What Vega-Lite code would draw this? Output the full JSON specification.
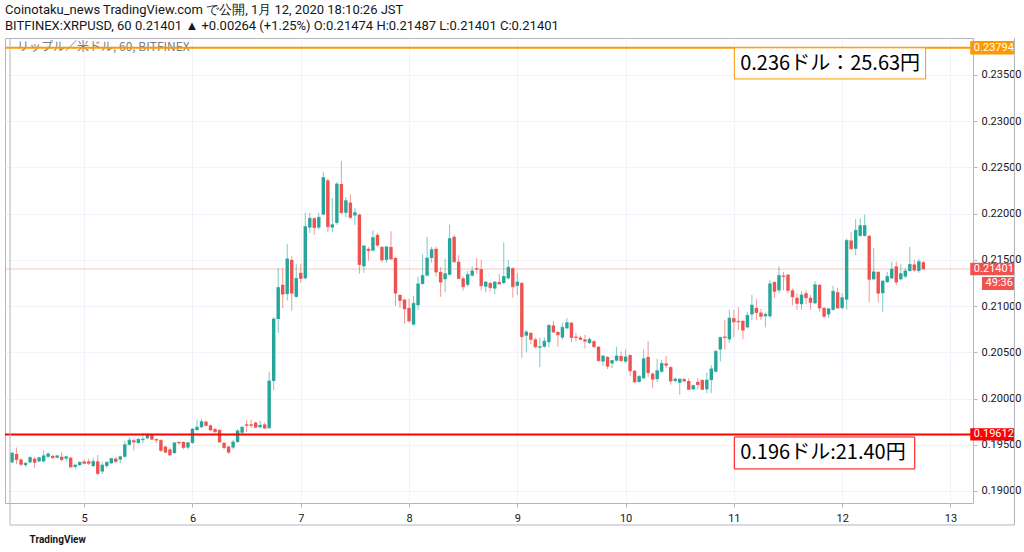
{
  "$schema": "https://vega.github.io/schema/vega-lite/v6.json",
  "width": 968,
  "height": 465,
  "autosize": "none",
  "padding": {"left": 5, "top": 38, "right": 51, "bottom": 49},
  "background": "#ffffff",
  "title": {
    "text": "Coinotaku_news TradingView.com で公開, 1月 12, 2020 18:10:26 JST",
    "subtitle": "BITFINEX:XRPUSD, 60 0.21401 ▲ +0.00264 (+1.25%) O:0.21474 H:0.21487 L:0.21401 C:0.21401",
    "anchor": "start",
    "frame": "group",
    "offset": 5,
    "font": "Roboto",
    "fontSize": 13,
    "fontWeight": "normal",
    "color": "#131722",
    "subtitleFont": "Roboto",
    "subtitleFontSize": 13,
    "subtitleColor": "#131722",
    "subtitlePadding": 3
  },
  "config": {
    "font": "Roboto",
    "view": {"stroke": "#b2b5be", "strokeWidth": 1},
    "axis": {
      "gridColor": "#f0f3fa",
      "domainColor": "#b2b5be",
      "tickColor": "#b2b5be",
      "labelColor": "#131722",
      "labelFont": "Roboto",
      "labelFontSize": 11
    }
  },
  "datasets": {
    "candles": [
      {"k":8,"o":0.1931,"h":0.1942,"l":0.1930,"c":0.1941},
      {"k":9,"o":0.1940,"h":0.1947,"l":0.1929,"c":0.1934},
      {"k":10,"o":0.1934,"h":0.1935,"l":0.1927,"c":0.1929},
      {"k":11,"o":0.1928,"h":0.1931,"l":0.1926,"c":0.1930},
      {"k":12,"o":0.1931,"h":0.1938,"l":0.1930,"c":0.1936},
      {"k":13,"o":0.1935,"h":0.1937,"l":0.1925,"c":0.1931},
      {"k":14,"o":0.1932,"h":0.1937,"l":0.1931,"c":0.1936},
      {"k":15,"o":0.1932,"h":0.1944,"l":0.1931,"c":0.1938},
      {"k":16,"o":0.1937,"h":0.1942,"l":0.1936,"c":0.1940},
      {"k":17,"o":0.1938,"h":0.1939,"l":0.1935,"c":0.1936},
      {"k":18,"o":0.1936,"h":0.1939,"l":0.1935,"c":0.1938},
      {"k":19,"o":0.1937,"h":0.1942,"l":0.1932,"c":0.1934},
      {"k":20,"o":0.1935,"h":0.1938,"l":0.1932,"c":0.1937},
      {"k":21,"o":0.1936,"h":0.1937,"l":0.1925,"c":0.1926},
      {"k":22,"o":0.1926,"h":0.1929,"l":0.1924,"c":0.1928},
      {"k":23,"o":0.1928,"h":0.1932,"l":0.1927,"c":0.1931},
      {"k":24,"o":0.1932,"h":0.1934,"l":0.1929,"c":0.1930},
      {"k":25,"o":0.1932,"h":0.1935,"l":0.1928,"c":0.1930},
      {"k":26,"o":0.1927,"h":0.1936,"l":0.1926,"c":0.1932},
      {"k":27,"o":0.1932,"h":0.1939,"l":0.1917,"c":0.1919},
      {"k":28,"o":0.1921,"h":0.1932,"l":0.1918,"c":0.1928},
      {"k":29,"o":0.1927,"h":0.1932,"l":0.1925,"c":0.1931},
      {"k":30,"o":0.1930,"h":0.1936,"l":0.1929,"c":0.1935},
      {"k":31,"o":0.1935,"h":0.1937,"l":0.1930,"c":0.1932},
      {"k":32,"o":0.1934,"h":0.1938,"l":0.1930,"c":0.1937},
      {"k":33,"o":0.1937,"h":0.1954,"l":0.1936,"c":0.1950},
      {"k":34,"o":0.1950,"h":0.1958,"l":0.1949,"c":0.1955},
      {"k":35,"o":0.1955,"h":0.1956,"l":0.1944,"c":0.1953},
      {"k":36,"o":0.1952,"h":0.1957,"l":0.1951,"c":0.1956},
      {"k":37,"o":0.1955,"h":0.1963,"l":0.1952,"c":0.1956},
      {"k":38,"o":0.1957,"h":0.1963,"l":0.1956,"c":0.1961},
      {"k":39,"o":0.1961,"h":0.1962,"l":0.1955,"c":0.1956},
      {"k":40,"o":0.1956,"h":0.1957,"l":0.1952,"c":0.1955},
      {"k":41,"o":0.1955,"h":0.1956,"l":0.1942,"c":0.1944},
      {"k":42,"o":0.1948,"h":0.1949,"l":0.1941,"c":0.1942},
      {"k":43,"o":0.1945,"h":0.1947,"l":0.1938,"c":0.1939},
      {"k":44,"o":0.1941,"h":0.1953,"l":0.1940,"c":0.1952},
      {"k":45,"o":0.1953,"h":0.1954,"l":0.1950,"c":0.1952},
      {"k":46,"o":0.1953,"h":0.1954,"l":0.1945,"c":0.1947},
      {"k":47,"o":0.1947,"h":0.1953,"l":0.1945,"c":0.1952},
      {"k":48,"o":0.1952,"h":0.1968,"l":0.1951,"c":0.1967},
      {"k":49,"o":0.1966,"h":0.1977,"l":0.1965,"c":0.1969},
      {"k":50,"o":0.1969,"h":0.1978,"l":0.1968,"c":0.1975},
      {"k":51,"o":0.1975,"h":0.1976,"l":0.1970,"c":0.1971},
      {"k":52,"o":0.1971,"h":0.1972,"l":0.1965,"c":0.1966},
      {"k":53,"o":0.1967,"h":0.1968,"l":0.1963,"c":0.1964},
      {"k":54,"o":0.1966,"h":0.1967,"l":0.1952,"c":0.1953},
      {"k":55,"o":0.1952,"h":0.1953,"l":0.1945,"c":0.1947},
      {"k":56,"o":0.1948,"h":0.1949,"l":0.1940,"c":0.1942},
      {"k":57,"o":0.1947,"h":0.1955,"l":0.1945,"c":0.1953},
      {"k":58,"o":0.1953,"h":0.1967,"l":0.1952,"c":0.1965},
      {"k":59,"o":0.1963,"h":0.1970,"l":0.1962,"c":0.1969},
      {"k":60,"o":0.1972,"h":0.1977,"l":0.1964,"c":0.1971},
      {"k":61,"o":0.1972,"h":0.1977,"l":0.1968,"c":0.1971},
      {"k":62,"o":0.1974,"h":0.1975,"l":0.1968,"c":0.1969},
      {"k":63,"o":0.1969,"h":0.1976,"l":0.1968,"c":0.1971},
      {"k":64,"o":0.1972,"h":0.1974,"l":0.1967,"c":0.1968},
      {"k":65,"o":0.1968,"h":0.2029,"l":0.1967,"c":0.2019},
      {"k":66,"o":0.2019,"h":0.2088,"l":0.2009,"c":0.2086},
      {"k":67,"o":0.2086,"h":0.2141,"l":0.2071,"c":0.2120},
      {"k":68,"o":0.2123,"h":0.2141,"l":0.2098,"c":0.2113},
      {"k":69,"o":0.2113,"h":0.2167,"l":0.2106,"c":0.2151},
      {"k":70,"o":0.2150,"h":0.2154,"l":0.2095,"c":0.2114},
      {"k":71,"o":0.2110,"h":0.2145,"l":0.2109,"c":0.2130},
      {"k":72,"o":0.2136,"h":0.2146,"l":0.2125,"c":0.2130},
      {"k":73,"o":0.2130,"h":0.2201,"l":0.2129,"c":0.2186},
      {"k":74,"o":0.2185,"h":0.2201,"l":0.2179,"c":0.2195},
      {"k":75,"o":0.2195,"h":0.2196,"l":0.2177,"c":0.2185},
      {"k":76,"o":0.2185,"h":0.2201,"l":0.2183,"c":0.2196},
      {"k":77,"o":0.2199,"h":0.2245,"l":0.2198,"c":0.2239},
      {"k":78,"o":0.2236,"h":0.2238,"l":0.2180,"c":0.2186},
      {"k":79,"o":0.2185,"h":0.2217,"l":0.2180,"c":0.2188},
      {"k":80,"o":0.2190,"h":0.2234,"l":0.2188,"c":0.2232},
      {"k":81,"o":0.2232,"h":0.2257,"l":0.2200,"c":0.2201},
      {"k":82,"o":0.2201,"h":0.2218,"l":0.2196,"c":0.2214},
      {"k":83,"o":0.2212,"h":0.2221,"l":0.2194,"c":0.2196},
      {"k":84,"o":0.2198,"h":0.2206,"l":0.2188,"c":0.2201},
      {"k":85,"o":0.2199,"h":0.2200,"l":0.2135,"c":0.2145},
      {"k":86,"o":0.2143,"h":0.2166,"l":0.2136,"c":0.2165},
      {"k":87,"o":0.2162,"h":0.2164,"l":0.2149,"c":0.2160},
      {"k":88,"o":0.2160,"h":0.2182,"l":0.2159,"c":0.2174},
      {"k":89,"o":0.2177,"h":0.2179,"l":0.2164,"c":0.2166},
      {"k":90,"o":0.2164,"h":0.2165,"l":0.2147,"c":0.2150},
      {"k":91,"o":0.2150,"h":0.2165,"l":0.2147,"c":0.2164},
      {"k":92,"o":0.2164,"h":0.2181,"l":0.2150,"c":0.2151},
      {"k":93,"o":0.2152,"h":0.2153,"l":0.2100,"c":0.2114},
      {"k":94,"o":0.2112,"h":0.2113,"l":0.2098,"c":0.2106},
      {"k":95,"o":0.2107,"h":0.2108,"l":0.2081,"c":0.2097},
      {"k":96,"o":0.2098,"h":0.2108,"l":0.2082,"c":0.2084},
      {"k":97,"o":0.2080,"h":0.2111,"l":0.2079,"c":0.2103},
      {"k":98,"o":0.2101,"h":0.2132,"l":0.2096,"c":0.2124},
      {"k":99,"o":0.2124,"h":0.2156,"l":0.2123,"c":0.2133},
      {"k":100,"o":0.2133,"h":0.2175,"l":0.2132,"c":0.2152},
      {"k":101,"o":0.2152,"h":0.2164,"l":0.2147,"c":0.2161},
      {"k":102,"o":0.2162,"h":0.2164,"l":0.2132,"c":0.2137},
      {"k":103,"o":0.2137,"h":0.2142,"l":0.2110,"c":0.2126},
      {"k":104,"o":0.2129,"h":0.2151,"l":0.2115,"c":0.2135},
      {"k":105,"o":0.2134,"h":0.2188,"l":0.2133,"c":0.2173},
      {"k":106,"o":0.2175,"h":0.2177,"l":0.2147,"c":0.2148},
      {"k":107,"o":0.2148,"h":0.2155,"l":0.2129,"c":0.2130},
      {"k":108,"o":0.2130,"h":0.2132,"l":0.2117,"c":0.2121},
      {"k":109,"o":0.2123,"h":0.2138,"l":0.2121,"c":0.2134},
      {"k":110,"o":0.2133,"h":0.2143,"l":0.2132,"c":0.2138},
      {"k":111,"o":0.2141,"h":0.2152,"l":0.2135,"c":0.2140},
      {"k":112,"o":0.2140,"h":0.2150,"l":0.2117,"c":0.2122},
      {"k":113,"o":0.2121,"h":0.2127,"l":0.2115,"c":0.2126},
      {"k":114,"o":0.2125,"h":0.2126,"l":0.2116,"c":0.2120},
      {"k":115,"o":0.2119,"h":0.2127,"l":0.2113,"c":0.2126},
      {"k":116,"o":0.2126,"h":0.2135,"l":0.2123,"c":0.2124},
      {"k":117,"o":0.2125,"h":0.2169,"l":0.2124,"c":0.2132},
      {"k":118,"o":0.2130,"h":0.2150,"l":0.2129,"c":0.2142},
      {"k":119,"o":0.2141,"h":0.2142,"l":0.2109,"c":0.2121},
      {"k":120,"o":0.2122,"h":0.2136,"l":0.2112,"c":0.2126},
      {"k":121,"o":0.2125,"h":0.2126,"l":0.2044,"c":0.2067},
      {"k":122,"o":0.2068,"h":0.2074,"l":0.2050,"c":0.2072},
      {"k":123,"o":0.2071,"h":0.2072,"l":0.2059,"c":0.2064},
      {"k":124,"o":0.2064,"h":0.2066,"l":0.2054,"c":0.2056},
      {"k":125,"o":0.2055,"h":0.2066,"l":0.2034,"c":0.2056},
      {"k":126,"o":0.2056,"h":0.2066,"l":0.2055,"c":0.2062},
      {"k":127,"o":0.2061,"h":0.2081,"l":0.2055,"c":0.2079},
      {"k":128,"o":0.2079,"h":0.2084,"l":0.2071,"c":0.2072},
      {"k":129,"o":0.2072,"h":0.2073,"l":0.2056,"c":0.2069},
      {"k":130,"o":0.2066,"h":0.2082,"l":0.2064,"c":0.2077},
      {"k":131,"o":0.2076,"h":0.2087,"l":0.2075,"c":0.2082},
      {"k":132,"o":0.2082,"h":0.2083,"l":0.2061,"c":0.2066},
      {"k":133,"o":0.2067,"h":0.2071,"l":0.2062,"c":0.2066},
      {"k":134,"o":0.2066,"h":0.2068,"l":0.2063,"c":0.2064},
      {"k":135,"o":0.2064,"h":0.2069,"l":0.2054,"c":0.2062},
      {"k":136,"o":0.2060,"h":0.2066,"l":0.2059,"c":0.2064},
      {"k":137,"o":0.2062,"h":0.2063,"l":0.2055,"c":0.2056},
      {"k":138,"o":0.2056,"h":0.2057,"l":0.2040,"c":0.2041},
      {"k":139,"o":0.2040,"h":0.2047,"l":0.2035,"c":0.2046},
      {"k":140,"o":0.2045,"h":0.2046,"l":0.2032,"c":0.2035},
      {"k":141,"o":0.2038,"h":0.2042,"l":0.2033,"c":0.2041},
      {"k":142,"o":0.2041,"h":0.2056,"l":0.2040,"c":0.2046},
      {"k":143,"o":0.2046,"h":0.2051,"l":0.2040,"c":0.2041},
      {"k":144,"o":0.2040,"h":0.2053,"l":0.2038,"c":0.2045},
      {"k":145,"o":0.2047,"h":0.2048,"l":0.2024,"c":0.2030},
      {"k":146,"o":0.2030,"h":0.2031,"l":0.2017,"c":0.2018},
      {"k":147,"o":0.2018,"h":0.2025,"l":0.2017,"c":0.2024},
      {"k":148,"o":0.2022,"h":0.2053,"l":0.2021,"c":0.2043},
      {"k":149,"o":0.2045,"h":0.2062,"l":0.2023,"c":0.2028},
      {"k":150,"o":0.2027,"h":0.2028,"l":0.2011,"c":0.2021},
      {"k":151,"o":0.2021,"h":0.2043,"l":0.2018,"c":0.2030},
      {"k":152,"o":0.2029,"h":0.2042,"l":0.2028,"c":0.2038},
      {"k":153,"o":0.2038,"h":0.2046,"l":0.2033,"c":0.2036},
      {"k":154,"o":0.2034,"h":0.2035,"l":0.2015,"c":0.2019},
      {"k":155,"o":0.2019,"h":0.2023,"l":0.2017,"c":0.2021},
      {"k":156,"o":0.2017,"h":0.2022,"l":0.2004,"c":0.2021},
      {"k":157,"o":0.2021,"h":0.2022,"l":0.2018,"c":0.2019},
      {"k":158,"o":0.2019,"h":0.2022,"l":0.2009,"c":0.2010},
      {"k":159,"o":0.2010,"h":0.2015,"l":0.2009,"c":0.2014},
      {"k":160,"o":0.2018,"h":0.2022,"l":0.2010,"c":0.2015},
      {"k":161,"o":0.2020,"h":0.2021,"l":0.2009,"c":0.2010},
      {"k":162,"o":0.2010,"h":0.2028,"l":0.2006,"c":0.2020},
      {"k":163,"o":0.2020,"h":0.2036,"l":0.2006,"c":0.2032},
      {"k":164,"o":0.2029,"h":0.2053,"l":0.2028,"c":0.2051},
      {"k":165,"o":0.2053,"h":0.2067,"l":0.2040,"c":0.2066},
      {"k":166,"o":0.2067,"h":0.2085,"l":0.2053,"c":0.2066},
      {"k":167,"o":0.2064,"h":0.2096,"l":0.2060,"c":0.2087},
      {"k":168,"o":0.2087,"h":0.2096,"l":0.2066,"c":0.2083},
      {"k":169,"o":0.2084,"h":0.2099,"l":0.2074,"c":0.2083},
      {"k":170,"o":0.2084,"h":0.2085,"l":0.2064,"c":0.2074},
      {"k":171,"o":0.2077,"h":0.2094,"l":0.2076,"c":0.2090},
      {"k":172,"o":0.2091,"h":0.2112,"l":0.2085,"c":0.2101},
      {"k":173,"o":0.2098,"h":0.2108,"l":0.2085,"c":0.2093},
      {"k":174,"o":0.2093,"h":0.2097,"l":0.2085,"c":0.2089},
      {"k":175,"o":0.2089,"h":0.2093,"l":0.2077,"c":0.2091},
      {"k":176,"o":0.2089,"h":0.2128,"l":0.2087,"c":0.2124},
      {"k":177,"o":0.2126,"h":0.2127,"l":0.2109,"c":0.2116},
      {"k":178,"o":0.2117,"h":0.2143,"l":0.2114,"c":0.2133},
      {"k":179,"o":0.2133,"h":0.2137,"l":0.2117,"c":0.2132},
      {"k":180,"o":0.2134,"h":0.2135,"l":0.2114,"c":0.2117},
      {"k":181,"o":0.2117,"h":0.2119,"l":0.2101,"c":0.2110},
      {"k":182,"o":0.2109,"h":0.2114,"l":0.2096,"c":0.2103},
      {"k":183,"o":0.2102,"h":0.2116,"l":0.2096,"c":0.2112},
      {"k":184,"o":0.2114,"h":0.2117,"l":0.2102,"c":0.2109},
      {"k":185,"o":0.2109,"h":0.2112,"l":0.2096,"c":0.2104},
      {"k":186,"o":0.2103,"h":0.2127,"l":0.2102,"c":0.2123},
      {"k":187,"o":0.2123,"h":0.2124,"l":0.2094,"c":0.2098},
      {"k":188,"o":0.2098,"h":0.2099,"l":0.2087,"c":0.2089},
      {"k":189,"o":0.2091,"h":0.2098,"l":0.2087,"c":0.2097},
      {"k":190,"o":0.2096,"h":0.2122,"l":0.2095,"c":0.2116},
      {"k":191,"o":0.2115,"h":0.2120,"l":0.2097,"c":0.2098},
      {"k":192,"o":0.2098,"h":0.2114,"l":0.2096,"c":0.2109},
      {"k":193,"o":0.2107,"h":0.2173,"l":0.2096,"c":0.2171},
      {"k":194,"o":0.2171,"h":0.2180,"l":0.2161,"c":0.2162},
      {"k":195,"o":0.2162,"h":0.2194,"l":0.2155,"c":0.2182},
      {"k":196,"o":0.2176,"h":0.2195,"l":0.2175,"c":0.2187},
      {"k":197,"o":0.2176,"h":0.2199,"l":0.2175,"c":0.2187},
      {"k":198,"o":0.2176,"h":0.2177,"l":0.2104,"c":0.2129},
      {"k":199,"o":0.2129,"h":0.2163,"l":0.2128,"c":0.2137},
      {"k":200,"o":0.2137,"h":0.2138,"l":0.2104,"c":0.2114},
      {"k":201,"o":0.2114,"h":0.2128,"l":0.2094,"c":0.2127},
      {"k":202,"o":0.2126,"h":0.2137,"l":0.2125,"c":0.2132},
      {"k":203,"o":0.2130,"h":0.2148,"l":0.2129,"c":0.2140},
      {"k":204,"o":0.2143,"h":0.2148,"l":0.2123,"c":0.2126},
      {"k":205,"o":0.2129,"h":0.2145,"l":0.2128,"c":0.2135},
      {"k":206,"o":0.2132,"h":0.2141,"l":0.2130,"c":0.2138},
      {"k":207,"o":0.2138,"h":0.2164,"l":0.2137,"c":0.2145},
      {"k":208,"o":0.2145,"h":0.2150,"l":0.2137,"c":0.2139},
      {"k":209,"o":0.2138,"h":0.2151,"l":0.2136,"c":0.2148},
      {"k":210,"o":0.21474,"h":0.21487,"l":0.21401,"c":0.21401}
    ]
  },
  "layer": [
    {
      "data": {"name": "candles"},
      "mark": {"type": "rule", "strokeWidth": 1, "opacity": 0.6},
      "encoding": {
        "x": {
          "field": "k",
          "type": "quantitative",
          "scale": {"domain": [7.55, 219.9], "nice": false, "zero": false},
          "axis": {
            "title": null,
            "values": [24, 48, 72, 96, 120, 144, 168, 192, 216],
            "labelExpr": "4 + datum.value / 24",
            "grid": true,
            "domain": false,
            "tickSize": 4,
            "labelPadding": 5
          }
        },
        "y": {
          "field": "l",
          "type": "quantitative",
          "scale": {"domain": [0.1887, 0.239], "nice": false, "zero": false},
          "axis": {
            "orient": "right",
            "title": null,
            "values": [0.19, 0.195, 0.2, 0.205, 0.21, 0.215, 0.22, 0.225, 0.23, 0.235],
            "format": ".5f",
            "grid": true,
            "domain": false,
            "tickSize": 4,
            "labelPadding": 4
          }
        },
        "y2": {"field": "h"},
        "color": {
          "condition": {"test": "datum.c >= datum.o", "value": "#26a69a"},
          "value": "#ef5350"
        }
      }
    },
    {
      "data": {"name": "candles"},
      "mark": {"type": "bar", "size": 3.4},
      "encoding": {
        "x": {"field": "k", "type": "quantitative"},
        "y": {"field": "o", "type": "quantitative"},
        "y2": {"field": "c"},
        "color": {
          "condition": {"test": "datum.c >= datum.o", "value": "#26a69a"},
          "value": "#ef5350"
        }
      }
    },
    {
      "data": {"name": "candles"},
      "mark": {"type": "tick", "orient": "horizontal", "size": 3.4, "thickness": 1},
      "encoding": {
        "x": {"field": "k", "type": "quantitative"},
        "y": {"field": "c", "type": "quantitative"},
        "color": {
          "condition": {"test": "datum.c >= datum.o", "value": "#26a69a"},
          "value": "#ef5350"
        }
      }
    },
    {
      "data": {"values": [{}]},
      "layer": [
        {
          "mark": {"type": "rule", "color": "#ef5350", "opacity": 0.35, "strokeWidth": 1},
          "encoding": {"y": {"datum": 0.21401}}
        },
        {
          "mark": {"type": "text", "align": "left", "baseline": "middle", "fontSize": 12, "color": "#787b86", "font": "Noto Sans CJK JP"},
          "encoding": {"x": {"datum": 9.1}, "y": {"datum": 0.23803}, "text": {"value": "リップル／米ドル, 60, BITFINEX"}}
        },
        {
          "mark": {"type": "rule", "color": "#ff9800", "strokeWidth": 2},
          "encoding": {"y": {"datum": 0.23794}}
        },
        {
          "mark": {"type": "rule", "color": "#ff0000", "strokeWidth": 2},
          "encoding": {"y": {"datum": 0.19612}}
        },
        {
          "mark": {"type": "rect", "fill": "#ffffff", "stroke": "#ff9800", "strokeWidth": 1},
          "encoding": {"x": {"datum": 168.1}, "x2": {"datum": 210.5}, "y": {"datum": 0.23794}, "y2": {"datum": 0.23457}}
        },
        {
          "mark": {"type": "text", "align": "left", "baseline": "middle", "fontSize": 20, "color": "#000000", "font": "Noto Sans CJK JP"},
          "encoding": {"x": {"datum": 169.4}, "y": {"datum": 0.2362}, "text": {"value": "0.236ドル：25.63円"}}
        },
        {
          "mark": {"type": "rect", "fill": "#ffffff", "stroke": "#ff0000", "strokeWidth": 1},
          "encoding": {"x": {"datum": 168.1}, "x2": {"datum": 208.1}, "y": {"datum": 0.19584}, "y2": {"datum": 0.19238}}
        },
        {
          "mark": {"type": "text", "align": "left", "baseline": "middle", "fontSize": 20, "color": "#000000", "font": "Noto Sans CJK JP"},
          "encoding": {"x": {"datum": 169.4}, "y": {"datum": 0.1941}, "text": {"value": "0.196ドル:21.40円"}}
        },
        {
          "mark": {"type": "rect", "fill": "#ff9800", "clip": false},
          "encoding": {"x": {"datum": 220.4}, "x2": {"datum": 230.2}, "y": {"datum": 0.23867}, "y2": {"datum": 0.23721}}
        },
        {
          "mark": {"type": "rect", "fill": "#ef5350", "clip": false},
          "encoding": {"x": {"datum": 220.4}, "x2": {"datum": 230.2}, "y": {"datum": 0.21468}, "y2": {"datum": 0.21334}}
        },
        {
          "mark": {"type": "rect", "fill": "#ef5350", "clip": false},
          "encoding": {"x": {"datum": 223.0}, "x2": {"datum": 230.2}, "y": {"datum": 0.21315}, "y2": {"datum": 0.21175}}
        },
        {
          "mark": {"type": "rect", "fill": "#ff0000", "clip": false},
          "encoding": {"x": {"datum": 220.4}, "x2": {"datum": 230.2}, "y": {"datum": 0.19679}, "y2": {"datum": 0.19547}}
        },
        {
          "mark": {"type": "text", "align": "left", "baseline": "middle", "fontSize": 11, "color": "#ffffff", "clip": false},
          "encoding": {"x": {"datum": 221.2}, "y": {"datum": 0.23794}, "text": {"value": "0.23794"}}
        },
        {
          "mark": {"type": "text", "align": "left", "baseline": "middle", "fontSize": 11, "color": "#ffffff", "clip": false},
          "encoding": {"x": {"datum": 221.2}, "y": {"datum": 0.21401}, "text": {"value": "0.21401"}}
        },
        {
          "mark": {"type": "text", "align": "left", "baseline": "middle", "fontSize": 11, "color": "#ffffff", "clip": false},
          "encoding": {"x": {"datum": 223.8}, "y": {"datum": 0.21245}, "text": {"value": "49:36"}}
        },
        {
          "mark": {"type": "text", "align": "left", "baseline": "middle", "fontSize": 11, "color": "#ffffff", "clip": false},
          "encoding": {"x": {"datum": 221.2}, "y": {"datum": 0.19612}, "text": {"value": "0.19612"}}
        },
        {
          "mark": {"type": "rule", "color": "#b2b5be", "strokeWidth": 1, "clip": false},
          "encoding": {"x": {"datum": 7.55}, "x2": {"datum": 230.2}, "y": {"datum": 0.18632}}
        },
        {
          "mark": {"type": "rule", "color": "#b2b5be", "strokeWidth": 1, "clip": false},
          "encoding": {"x": {"datum": 230.2}, "y": {"datum": 0.239}, "y2": {"datum": 0.18632}}
        },
        {
          "mark": {"type": "rule", "color": "#b2b5be", "strokeWidth": 1, "clip": false},
          "encoding": {"x": {"datum": 7.55}, "y": {"datum": 0.239}, "y2": {"datum": 0.18632}}
        },
        {
          "mark": {"type": "text", "align": "left", "baseline": "middle", "fontSize": 10, "fontWeight": "bold", "color": "#131722", "clip": false},
          "encoding": {"x": {"datum": 11.9}, "y": {"datum": 0.1847}, "text": {"value": "TradingView"}}
        }
      ]
    }
  ]
}
